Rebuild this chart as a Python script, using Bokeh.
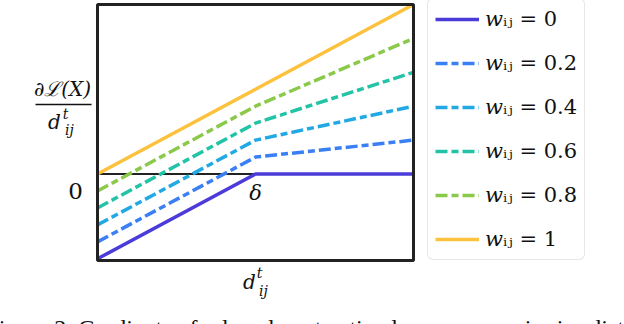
from bokeh.plotting import figure
from bokeh.models import Range1d, Label, Legend, LegendItem, Arrow, BoxAnnotation
from bokeh.embed import file_html
from bokeh.resources import INLINE

# distance d_ij^t : start, delta, end
d_vals = [0.0, 0.5, 1.0]
# gradient dL(X)/d_ij^t for each weight w_ij
g_w0 = [-1.0, 0.0, 0.0]
g_w02 = [-0.8, 0.2, 0.4]
g_w04 = [-0.6, 0.4, 0.8]
g_w06 = [-0.4, 0.6, 1.2]
g_w08 = [-0.2, 0.8, 1.6]
g_w1 = [0.0, 1.0, 2.0]
series = [g_w0, g_w02, g_w04, g_w06, g_w08, g_w1]
labels = ["\U0001d464\u1d62\u2c7c = 0", "\U0001d464\u1d62\u2c7c = 0.2", "\U0001d464\u1d62\u2c7c = 0.4",
          "\U0001d464\u1d62\u2c7c = 0.6", "\U0001d464\u1d62\u2c7c = 0.8", "\U0001d464\u1d62\u2c7c = 1"]
# visible value window of the plot box
y_lo, y_hi = -1.02, 2.0

colors = ["#4b3bd9", "#3b7ff5", "#22a9e4", "#22c3a6", "#8bc94a", "#fdc23d"]
dashes = ["solid", "12 4 7 4", "12 4 7 4", "12 4 7 4", "12 4 7 4", "solid"]

# layout (pixels)
W, H = 624, 324
box_l, box_r, box_t, box_b = 97, 413, 4, 260
x_lo, x_hi = d_vals[0], d_vals[-1]
kx = (box_r - box_l) / (x_hi - x_lo)
ky = (box_b - box_t) / (y_hi - y_lo)
xr = Range1d(x_lo - box_l / kx, x_hi + (W - box_r) / kx)
yr = Range1d(y_lo - (H - box_b) / ky, y_hi + box_t / ky)

p = figure(width=W, height=H, x_range=xr, y_range=yr,
           output_backend="svg", toolbar_location=None,
           x_axis_location=None, y_axis_location=None,
           min_border=0)
p.grid.visible = False
p.outline_line_color = None
p.background_fill_color = "white"
p.border_fill_color = "white"

# zero line across the box
p.segment(x0=[x_lo], y0=[0], x1=[x_hi], y1=[0], line_color="#222222", line_width=2)

rends = []
for ys, c, dsh in zip(series, colors, dashes):
    r = p.line(d_vals, ys, line_color=c, line_width=3.5, line_dash=dsh)
    rends.append(r)

p.add_layout(BoxAnnotation(left=x_lo, right=x_hi, bottom=y_lo, top=y_hi,
                           fill_alpha=0, line_color="#222222", line_alpha=1.0, line_width=3))

legend = Legend(items=[LegendItem(label=l, renderers=[r]) for l, r in zip(labels, rends)],
                location=(427, H - 260))
legend.label_text_font = "DejaVu Serif"
legend.label_text_font_size = "21px"
legend.label_text_color = "#111111"
legend.glyph_width = 44
legend.glyph_height = 26
legend.label_height = 26
legend.spacing = 18
legend.padding = 7
legend.margin = 0
legend.label_standoff = 6
legend.border_line_color = "#cfcfcf"
legend.border_line_width = 1.5
legend.background_fill_color = "white"
legend.background_fill_alpha = 1.0
try:
    legend.border_radius = 6
except Exception:
    pass
p.add_layout(legend)

math_font = "DejaVu Serif"

def lab(text, x, y, size, style="italic", align="center", baseline="middle", font=math_font, xu="screen"):
    p.add_layout(Label(text=text, x=x, y=y, x_units=xu, y_units="screen",
                       text_font=font, text_font_size=size, text_font_style=style,
                       text_align=align, text_baseline=baseline, text_color="#111111"))

# y-axis label (fraction)
lab("\u2202\u2112(X)", 62, H - 88, "20px")
p.add_layout(Arrow(x_start=35, y_start=H - 104, x_end=91, y_end=H - 104,
                   start_units="screen", end_units="screen", end=None,
                   line_color="#111111", line_width=1.5))
lab("d", 54, H - 121, "20px")
lab("t", 65, H - 113, "14px")
lab("ij", 69, H - 129, "14px")
# zero tick
lab("0", 75, H - 190, "23px", style="normal")
# delta
lab("\u03b4", d_vals[1], H - 192, "21px", xu="data")
# x-axis label
lab("d", 249, H - 281, "20px")
lab("t", 259, H - 272, "14px")
lab("ij", 263, H - 290, "14px")
# caption (cut off by the picture edge, as in the original)
lab("Figure 2. Gradients of relaxed contrastive loss versus pairwise distance", -15, H - 327, "24px",
    style="normal", align="left", baseline="alphabetic", font="Liberation Serif")

open("out.html", "w").write(file_html(p, INLINE))
